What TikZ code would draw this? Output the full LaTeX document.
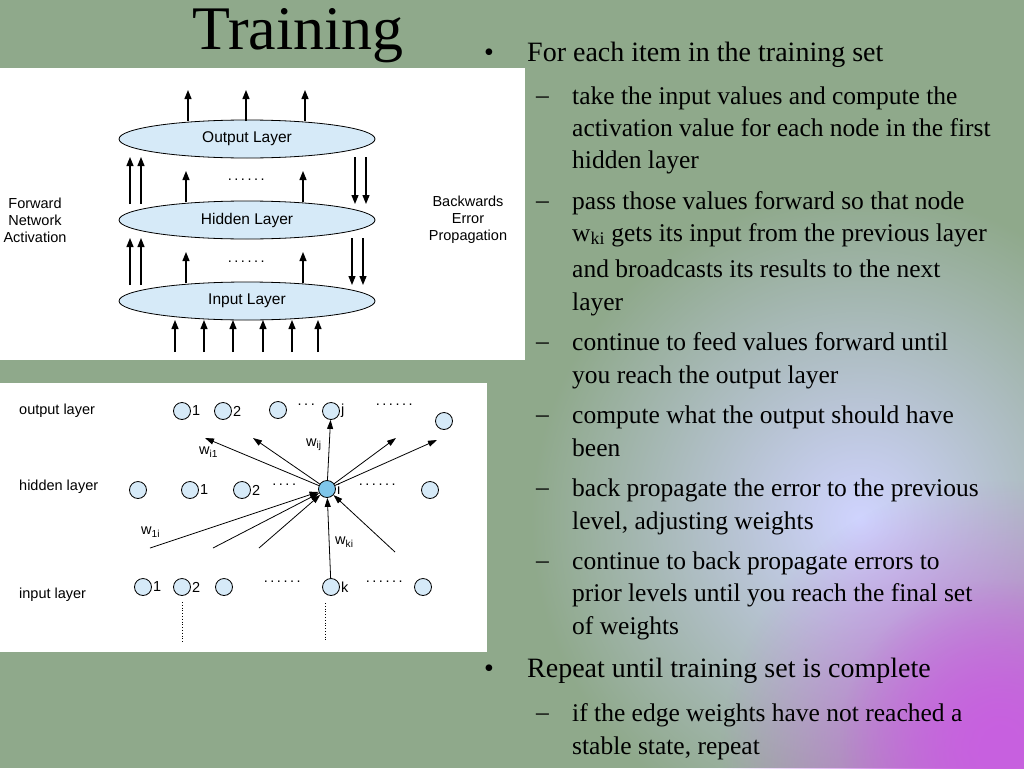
\documentclass[tikz,border=0pt]{standalone}
\usepackage{fontspec}
\setmainfont{Liberation Serif}
\setsansfont{Liberation Sans}
\usetikzlibrary{arrows.meta,fadings,positioning,shapes.geometric}
\definecolor{slidebg}{HTML}{8FA98B}
\definecolor{layerblue}{HTML}{D6EAF8}
\definecolor{nodeblue}{HTML}{7FC6EA}
\definecolor{glowblue}{HTML}{D0D4FF}
\definecolor{glowpink}{HTML}{C860E0}
\tikzfading[name=softdisc, inner color=transparent!0, outer color=transparent!100]
\tikzset{
  layer/.style={draw, thick, ellipse, fill=layerblue, minimum width=256pt, minimum height=38pt, font=\sffamily\fontsize{15.5}{17}\selectfont},
  unit/.style={draw, thick, circle, fill=layerblue, minimum size=17pt, inner sep=0pt},
  arr/.style={-{Triangle[length=9pt,width=7pt]}, very thick},
  warr/.style={-{Triangle[length=9pt,width=6pt]}, thick},
  lbl/.style={font=\sffamily\fontsize{14.5}{17}\selectfont, align=center},
  tag/.style={font=\sffamily\fontsize{14.5}{16}\selectfont, anchor=west, inner sep=1pt},
  bullet/.style={anchor=base west, inner sep=0pt, font=\fontsize{28}{30}\selectfont},
  sub/.style={anchor=base west, inner sep=0pt, font=\fontsize{25.5}{27}\selectfont},
}
\newcommand\spdots[1]{\foreach \k in {1,...,#1}{\kern2.5pt.}}
\begin{document}
\begin{tikzpicture}[x=1pt,y=-1pt]
%background
\useasboundingbox (0,0) rectangle (1024,768);
\fill[slidebg] (0,0) rectangle (1024,768);
\begin{scope}
\clip (0,0) rectangle (1024,768);
\fill[glowblue, path fading=softdisc] (860,520) circle (330);
\fill[glowpink, path fading=softdisc] (1000,760) circle (280);
\fill[glowpink, path fading=softdisc] (1000,740) circle (160);
\end{scope}
%title
\node[font=\fontsize{62}{64}\selectfont] (title) at (298,36) {Training};
%panel 1: layers
\fill[white] (0,68) rectangle (525,360);
\node[layer] (out) at (247,139) {Output Layer};
\node[layer] (hid) at (247,220) {Hidden Layer};
\node[layer] (inp) at (247,301) {Input Layer};
\foreach \x in {188,246,305}
  \draw[arr] (\x,121) -- (\x,90);
\foreach \x in {130,141}
{
  \draw[arr] (\x,204) -- (\x,157);
  \draw[arr] (\x,285) -- (\x,238);
}
\foreach \x in {186,303}
{
  \draw[arr] (\x,202) -- (\x,171);
  \draw[arr] (\x,283) -- (\x,252);
}
\foreach \x in {355,366}
{
  \draw[arr] (\x,157) -- (\x,204);
  \draw[arr] (\x-3,238) -- (\x-3,285);
}
\foreach \x in {175,204,233,263,292,318}
  \draw[arr] (\x,352) -- (\x,320);
\node[lbl] at (245,180) {\spdots{6}};
\node[lbl] at (245,262) {\spdots{6}};
\node[lbl] (fwd) at (35,220) {Forward\\Network\\Activation};
\node[lbl] (bwd) at (468,220) {Backwards\\Error\\Propagation};
%panel 2: units
\fill[white] (0,383) rectangle (487,652);
\node[tag] at (18,411) {output layer};
\node[tag] at (18,487) {hidden layer};
\node[tag] at (18,595) {input layer};
\node[unit] (o1) at (182,411) {};
\node[unit] (o2) at (223,411) {};
\node[unit] (o3) at (278,410) {};
\node[unit] (oj) at (331,411) {};
\node[unit] (o4) at (444,421) {};
\node[unit] (h0) at (138,490) {};
\node[unit] (h1) at (190,490) {};
\node[unit] (h2) at (242,490) {};
\node[unit, fill=nodeblue] (hi) at (327,489) {};
\node[unit] (h3) at (430,490) {};
\node[unit] (i1) at (143,587) {};
\node[unit] (i2) at (182,587) {};
\node[unit] (i3) at (224,587) {};
\node[unit] (ik) at (331,587) {};
\node[unit] (i4) at (423,587) {};
\node[tag, right=0pt of o1] {1};
\node[tag, right=0pt of o2] {2};
\node[tag, right=0pt of oj] {j};
\node[tag, right=0pt of h1] {1};
\node[tag, right=0pt of h2] {2};
\node[tag, right=0pt of hi] {i};
\node[tag, right=0pt of i1] {1};
\node[tag, right=0pt of i2] {2};
\node[tag, right=0pt of ik] {k};
\node[lbl] at (305,405) {\spdots{3}};
\node[lbl] at (393,405) {\spdots{6}};
\node[lbl] at (283,485) {\spdots{4}};
\node[lbl] at (376,485) {\spdots{6}};
\node[lbl] at (281,582) {\spdots{6}};
\node[lbl] at (383,582) {\spdots{6}};
\draw[dotted, thick] (i2.south) ++(0,6) -- ++(0,40);
\draw[dotted, thick] (325,603) -- (325,642);
%weights
\coordinate (t1) at (205,438);
\coordinate (t2) at (253,438);
\coordinate (t3) at (396,438);
\coordinate (t4) at (437,440);
\coordinate (s1) at (150,548);
\coordinate (s2) at (213,548);
\coordinate (s3) at (259,548);
\coordinate (s4) at (395,552);
\foreach \t in {t1,t2,t3,t4}
  \draw[warr] (hi) -- (\t);
\draw[warr] (hi) -- (oj);
\foreach \s in {s1,s2,s3,s4}
  \draw[warr] (\s) -- (hi);
\draw[warr] (ik) -- (hi);
\node[tag] at (198,452) {w\textsubscript{i1}};
\node[tag] at (305,445) {w\textsubscript{ij}};
\node[tag] at (140,532) {w\textsubscript{1i}};
\node[tag] at (334,542) {w\textsubscript{ki}};
%bullets
\node[bullet] at (484,61) {\textbullet};
\node[bullet] (b1) at (527,61) {For each item in the training set};
\foreach \y in {95,200,341,414,487,560,712}
  \node[sub] at (536,\y+8) {\textendash};
\node[sub] at (572,104) {take the input values and compute the};
\node[sub] at (572,136) {activation value for each node in the first};
\node[sub] at (572,168) {hidden layer};
\node[sub] at (572,209) {pass those values forward so that node};
\node[sub] at (572,241) {w\textsubscript{ki} gets its input from the previous layer};
\node[sub] at (572,277) {and broadcasts its results to the next};
\node[sub] at (572,310) {layer};
\node[sub] at (572,350) {continue to feed values forward until};
\node[sub] at (572,383) {you reach the output layer};
\node[sub] at (572,423) {compute what the output should have};
\node[sub] at (572,456) {been};
\node[sub] at (572,496) {back propagate the error to the previous};
\node[sub] at (572,529) {level, adjusting weights};
\node[sub] at (572,569) {continue to back propagate errors to};
\node[sub] at (572,601) {prior levels until you reach the final set};
\node[sub] at (572,634) {of weights};
\node[bullet] at (484,677) {\textbullet};
\node[bullet] (b2) at (527,677) {Repeat until training set is complete};
\node[sub] at (572,721) {if the edge weights have not reached a};
\node[sub] at (572,754) {stable state, repeat};
\end{tikzpicture}
\end{document}
